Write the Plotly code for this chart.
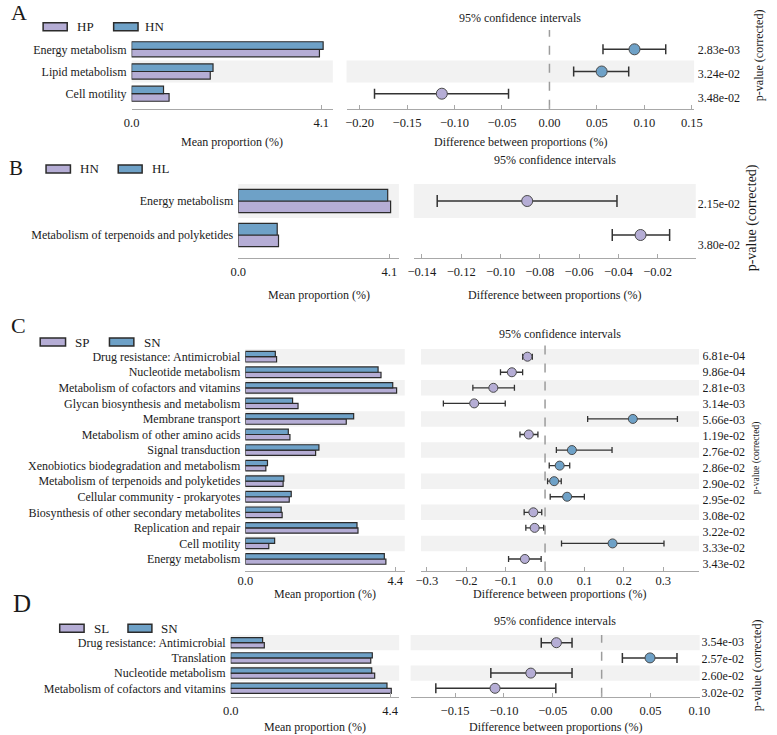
import plotly.graph_objects as go

W, H = 777, 735
FONT = "Liberation Serif"
TXT = "#1a1a1a"
PURPLE = "#b5add5"
BLUE = "#6ea1c7"
EDGE = "#2b2b2b"
SHADE = "#f2f2f2"
AXC = "#a8a8a8"

# ---------------- data ----------------
# Panel A : HP vs HN
A_groups = ["HP", "HN"]
A_features = ["Energy metabolism", "Lipid metabolism", "Cell motility"]
A_mean_1 = [4.06, 1.70, 0.81]   # HP
A_mean_2 = [4.14, 1.76, 0.69]   # HN
A_diff = [0.0896, 0.0550, -0.1134]
A_ci_lo = [0.0564, 0.0255, -0.1843]
A_ci_hi = [0.1225, 0.0835, -0.0431]
A_pvals = ["2.83e-03", "3.24e-02", "3.48e-02"]
A_bar_ticks = [0.0, 4.1]
A_diff_ticks = [-0.20, -0.15, -0.10, -0.05, 0.00, 0.05, 0.10, 0.15]

# Panel B : HN vs HL
B_groups = ["HN", "HL"]
B_features = ["Energy metabolism", "Metabolism of terpenoids and polyketides"]
B_mean_1 = [4.135, 1.093]   # HN
B_mean_2 = [4.056, 1.058]   # HL
B_diff = [-0.0864, -0.0287]
B_ci_lo = [-0.1322, -0.0431]
B_ci_hi = [-0.0407, -0.0139]
B_pvals = ["2.15e-02", "3.80e-02"]
B_bar_ticks = [0.0, 4.1]
B_diff_ticks = [-0.14, -0.12, -0.10, -0.08, -0.06, -0.04, -0.02]

# Panel C : SP vs SN
C_groups = ["SP", "SN"]
C_features = ["Drug resistance: Antimicrobial", "Nucleotide metabolism",
              "Metabolism of cofactors and vitamins", "Glycan biosynthesis and metabolism",
              "Membrane transport", "Metabolism of other amino acids", "Signal transduction",
              "Xenobiotics biodegradation and metabolism", "Metabolism of terpenoids and polyketides",
              "Cellular community - prokaryotes", "Biosynthesis of other secondary metabolites",
              "Replication and repair", "Cell motility", "Energy metabolism"]
C_mean_1 = [0.917, 3.983, 4.441, 1.547, 2.963, 1.309, 2.063, 0.602, 1.109, 1.289, 1.080, 3.307, 0.688, 4.126]  # SP
C_mean_2 = [0.880, 3.897, 4.327, 1.387, 3.180, 1.261, 2.160, 0.650, 1.129, 1.347, 1.052, 3.278, 0.860, 4.080]  # SN
C_diff = [-0.0446, -0.0842, -0.1312, -0.1798, 0.2228, -0.0413, 0.0681, 0.0371, 0.0231, 0.0560, -0.0297, -0.0264, 0.1713, -0.0512]
C_ci_lo = [-0.0569, -0.1131, -0.1832, -0.2580, 0.1081, -0.0636, 0.0287, 0.0106, 0.0064, 0.0131, -0.0530, -0.0488, 0.0418, -0.0926]
C_ci_hi = [-0.0322, -0.0569, -0.0777, -0.1010, 0.3359, -0.0181, 0.1700, 0.0626, 0.0411, 0.0998, -0.0084, -0.0035, 0.3018, -0.0099]
C_pvals = ["6.81e-04", "9.86e-04", "2.81e-03", "3.14e-03", "5.66e-03", "1.19e-02", "2.76e-02",
           "2.86e-02", "2.90e-02", "2.95e-02", "3.08e-02", "3.22e-02", "3.33e-02", "3.43e-02"]
C_bar_ticks = [0.0, 4.4]
C_diff_ticks = [-0.3, -0.2, -0.1, 0.0, 0.1, 0.2, 0.3]

# Panel D : SL vs SN
D_groups = ["SL", "SN"]
D_features = ["Drug resistance: Antimicrobial", "Translation", "Nucleotide metabolism",
              "Metabolism of cofactors and vitamins"]
D_mean_1 = [0.927, 3.865, 3.973, 4.431]   # SL
D_mean_2 = [0.881, 3.908, 3.892, 4.313]   # SN
D_diff = [-0.0463, 0.0495, -0.0725, -0.1091]
D_ci_lo = [-0.0618, 0.0212, -0.1134, -0.1697]
D_ci_hi = [-0.0303, 0.0771, -0.0303, -0.0469]
D_pvals = ["3.54e-03", "2.57e-02", "2.60e-02", "3.02e-02"]
D_bar_ticks = [0.0, 4.4]
D_diff_ticks = [-0.15, -0.10, -0.05, 0.00, 0.05, 0.10]

PANELS = [
    dict(name="A", groups=A_groups, features=A_features, m1=A_mean_1, m2=A_mean_2, diff=A_diff,
         lo=A_ci_lo, hi=A_ci_hi, pvals=A_pvals, bar_ticks=A_bar_ticks, diff_ticks=A_diff_ticks, dfmt=".2f"),
    dict(name="B", groups=B_groups, features=B_features, m1=B_mean_1, m2=B_mean_2, diff=B_diff,
         lo=B_ci_lo, hi=B_ci_hi, pvals=B_pvals, bar_ticks=B_bar_ticks, diff_ticks=B_diff_ticks, dfmt=".2f"),
    dict(name="C", groups=C_groups, features=C_features, m1=C_mean_1, m2=C_mean_2, diff=C_diff,
         lo=C_ci_lo, hi=C_ci_hi, pvals=C_pvals, bar_ticks=C_bar_ticks, diff_ticks=C_diff_ticks, dfmt=".1f"),
    dict(name="D", groups=D_groups, features=D_features, m1=D_mean_1, m2=D_mean_2, diff=D_diff,
         lo=D_ci_lo, hi=D_ci_hi, pvals=D_pvals, bar_ticks=D_bar_ticks, diff_ticks=D_diff_ticks, dfmt=".2f"),
]

# ---------------- layout geometry (pixels) ----------------
GEO = [
    dict(letter=(11.5, 12.5, 22), leg_y=26.7, leg=(36, 60.7, 69, 108.3, 133.3, 138),
         c0=49.3, s=22.2, axis=108.7, top=30, bar_x=(126.7, 333), bar_max=4.35,
         diff_x=(347, 703.3), diff_range=(-0.2138, 0.1524),
         p_c0=51.5, p_s=23.7, p_x=707, ci_y=18, title_y=141.5, pv=(770, 55, 12),
         msize=11, capw=5, ethick=1.5, tls=2),
    dict(letter=(8.5, 167.5, 21), leg_y=169, leg=(39, 64, 72, 113, 137.5, 146),
         c0=201, s=34, axis=258.3, top=184, bar_x=(236, 400.7), bar_max=4.36,
         diff_x=(416, 705), diff_range=(-0.1441, -0.0006),
         p_c0=205, p_s=40.7, p_x=707, ci_y=160, title_y=295, pv=(763, 218, 14),
         msize=11, capw=6, ethick=1.5, tls=2),
    dict(letter=(10.5, 325.5, 22), leg_y=342, leg=(33, 59, 67, 104, 129, 137),
         c0=356.7, s=15.56, axis=570.5, top=342, bar_x=(243.3, 406.7), bar_max=4.68,
         diff_x=(423.3, 708.3), diff_range=(-0.3149, 0.3906),
         p_c0=357.3, p_s=16.0, p_x=712, ci_y=334, title_y=594, pv=(768, 458, 9.5),
         msize=9, capw=3, ethick=1.3, tls=-2),
    dict(letter=(14.5, 603, 25), leg_y=628.3, leg=(53, 78, 86, 123, 147.5, 155),
         c0=642.7, s=15.2, axis=696.7, top=635, bar_x=(228.3, 401), bar_max=4.65,
         diff_x=(412.7, 709), diff_range=(-0.1955, 0.1003),
         p_c0=643.3, p_s=16.9, p_x=711, ci_y=621, title_y=727, pv=(768, 665, 12),
         msize=10, capw=5, ethick=1.5, tls=2),
]


def fx(v):
    return v / W


def fy(v):
    return 1 - v / H


fig = go.Figure()
layout = dict(width=W, height=H, margin=dict(l=0, r=0, t=0, b=0),
              paper_bgcolor="white", plot_bgcolor="white", showlegend=False,
              barmode="group", bargap=0.32, bargroupgap=0,
              font=dict(family=FONT, color=TXT, size=12))
shapes, annotations = [], []


def aname(k):
    return "" if k == 1 else str(k)


def text_ann(x, y, text, size, angle=0, xanchor="center"):
    annotations.append(dict(x=fx(x), y=fy(y), xref="paper", yref="paper", text=text,
                            showarrow=False, textangle=angle, xanchor=xanchor, yanchor="middle",
                            font=dict(family=FONT, size=size, color=TXT)))


for p, (d, g) in enumerate(zip(PANELS, GEO)):
    kb, kd, kp = 3 * p + 1, 3 * p + 2, 3 * p + 3
    n = len(d["features"])
    ypos = [n - 1 - i for i in range(n)]
    r0 = (n - 1) - (g["axis"] - g["c0"]) / g["s"]
    r1 = (n - 1) - (g["top"] - g["c0"]) / g["s"]
    ydom = [fy(g["axis"]), fy(g["top"])]

    # --- mean proportion bars ---
    for vals, col in ((d["m1"], PURPLE), (d["m2"], BLUE)):
        fig.add_trace(go.Bar(x=vals, y=ypos, orientation="h",
                             marker=dict(color=col, line=dict(color=EDGE, width=1.2)),
                             xaxis="x" + aname(kb), yaxis="y" + aname(kb), hoverinfo="skip"))
    layout["xaxis" + aname(kb)] = dict(
        domain=[fx(g["bar_x"][0]), fx(g["bar_x"][1])], range=[0, g["bar_max"]],
        anchor="y" + aname(kb), showline=True, linecolor=AXC, linewidth=1,
        ticks="inside", ticklen=4, tickcolor=AXC, tickvals=d["bar_ticks"], tickformat=".1f",
        showgrid=False, zeroline=False, tickfont=dict(size=12.5, family=FONT, color=TXT),
        ticklabelstandoff=g["tls"])
    layout["yaxis" + aname(kb)] = dict(
        domain=ydom, range=[r0, r1], anchor="x" + aname(kb), showgrid=False, zeroline=False,
        showline=False, ticks="", tickmode="array", tickvals=ypos, ticktext=d["features"],
        tickfont=dict(size=12, family=FONT, color=TXT), ticklabelstandoff=4)

    # --- difference with 95% CI ---
    colors = [BLUE if v > 0 else PURPLE for v in d["diff"]]
    fig.add_trace(go.Scatter(
        x=d["diff"], y=ypos, mode="markers",
        marker=dict(size=g["msize"], color=colors, line=dict(color="#4a4a4a", width=1)),
        error_x=dict(type="data", symmetric=False,
                     array=[h - v for h, v in zip(d["hi"], d["diff"])],
                     arrayminus=[v - l for v, l in zip(d["diff"], d["lo"])],
                     color="#333333", thickness=g["ethick"], width=g["capw"]),
        xaxis="x" + aname(kd), yaxis="y" + aname(kd), hoverinfo="skip"))
    layout["xaxis" + aname(kd)] = dict(
        domain=[fx(g["diff_x"][0]), fx(g["diff_x"][1])], range=list(g["diff_range"]),
        anchor="y" + aname(kd), showline=True, linecolor=AXC, linewidth=1,
        ticks="inside", ticklen=4, tickcolor=AXC, tickvals=d["diff_ticks"], tickformat=d["dfmt"],
        showgrid=False, zeroline=False, tickfont=dict(size=12.5, family=FONT, color=TXT),
        ticklabelstandoff=g["tls"])
    layout["yaxis" + aname(kd)] = dict(
        domain=ydom, range=[r0, r1], anchor="x" + aname(kd), showgrid=False, zeroline=False,
        showline=False, showticklabels=False, ticks="")

    # --- p-values ---
    fig.add_trace(go.Scatter(
        x=[0] * n, y=ypos, mode="text", text=d["pvals"], textposition="middle right",
        textfont=dict(size=12, family=FONT, color=TXT),
        xaxis="x" + aname(kp), yaxis="y" + aname(kp), hoverinfo="skip"))
    layout["xaxis" + aname(kp)] = dict(domain=[fx(g["p_x"]), fx(g["p_x"] + 50)], range=[0, 1],
                                      anchor="y" + aname(kp), visible=False)
    p_top = g["p_c0"] - g["p_s"] / 2
    p_bot = g["p_c0"] + (n - 1) * g["p_s"] + g["p_s"] / 2
    layout["yaxis" + aname(kp)] = dict(domain=[fy(p_bot), fy(p_top)], range=[-0.5, n - 0.5],
                                      anchor="x" + aname(kp), visible=False)

    # --- row shading (alternate rows counted from bottom) ---
    for k in ypos:
        if k % 2 == 1:
            for ka in (kb, kd):
                shapes.append(dict(type="rect", xref="x" + aname(ka) + " domain", x0=0, x1=1,
                                   yref="y" + aname(ka), y0=k - 0.5, y1=k + 0.5,
                                   fillcolor=SHADE, line=dict(width=0), layer="below"))

    # --- zero line ---
    if g["diff_range"][0] < 0 < g["diff_range"][1]:
        shapes.append(dict(type="line", xref="x" + aname(kd), x0=0, x1=0,
                           yref="y" + aname(kd) + " domain", y0=0, y1=1,
                           line=dict(color="#9c9c9c", width=1.5, dash="dash"), layer="below"))

    # --- legend (swatches + labels) ---
    lx = g["leg"]
    for (x0, x1, tx), col, name in (((lx[0], lx[1], lx[2]), PURPLE, d["groups"][0]),
                                    ((lx[3], lx[4], lx[5]), BLUE, d["groups"][1])):
        shapes.append(dict(type="rect", xref="paper", yref="paper",
                           x0=fx(x0), x1=fx(x1), y0=fy(g["leg_y"] + 4), y1=fy(g["leg_y"] - 4),
                           fillcolor=col, line=dict(color=EDGE, width=1.5)))
        text_ann(tx, g["leg_y"], name, 13, xanchor="left")

    # --- texts ---
    lx_, ly_, lsz = g["letter"]
    text_ann(lx_, ly_, d["name"], lsz)
    dcx = (g["diff_x"][0] + g["diff_x"][1]) / 2
    bcx = (g["bar_x"][0] + g["bar_x"][1]) / 2
    text_ann(dcx, g["ci_y"], "95% confidence intervals", 12)
    text_ann(bcx, g["title_y"], "Mean proportion (%)", 12)
    text_ann(dcx, g["title_y"], "Difference between proportions (%)", 12)
    pvx, pvy, pvs = g["pv"]
    text_ann(pvx, pvy, "p-value (corrected)", pvs, angle=-90)

layout["shapes"] = shapes
layout["annotations"] = annotations
fig.update_layout(**layout)
fig.write_html("out.html", config={"displayModeBar": False, "staticPlot": True},
               post_script="document.body.style.margin='0px';document.body.style.overflow='hidden';")
